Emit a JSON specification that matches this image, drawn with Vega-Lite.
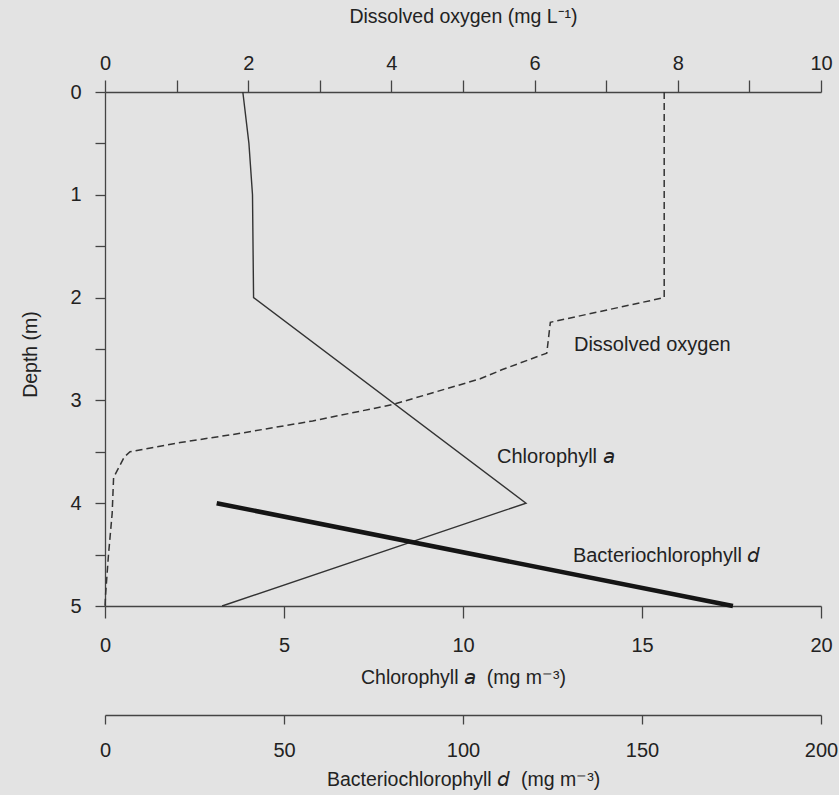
{
  "$schema": "https://vega.github.io/schema/vega-lite/v6.json",
  "width": 716,
  "height": 514,
  "autosize": {"type": "none"},
  "padding": {"left": 105, "top": 92, "right": 18, "bottom": 189},
  "background": "#e3e3e3",
  "config": {
    "view": {"stroke": null},
    "font": "Liberation Sans",
    "axis": {
      "domainColor": "#444",
      "domainWidth": 1.3,
      "tickColor": "#444",
      "tickWidth": 1.3,
      "labelColor": "#222",
      "titleColor": "#222",
      "labelFont": "Liberation Sans",
      "titleFont": "Liberation Sans",
      "labelFontSize": 20,
      "titleFontSize": 19.5,
      "titleFontWeight": "normal",
      "grid": false,
      "labelOverlap": false,
      "labelFlush": false
    }
  },
  "datasets": {
    "chl": [
      {"depth": 0, "chl": 3.85},
      {"depth": 0.5, "chl": 4.02},
      {"depth": 1, "chl": 4.12},
      {"depth": 2, "chl": 4.15},
      {"depth": 4, "chl": 11.76},
      {"depth": 5, "chl": 3.27}
    ],
    "oxy": [
      {"depth": 0, "oxygen": 7.81},
      {"depth": 2.0, "oxygen": 7.81},
      {"depth": 2.24, "oxygen": 6.22},
      {"depth": 2.54, "oxygen": 6.17},
      {"depth": 2.7, "oxygen": 5.55},
      {"depth": 2.79, "oxygen": 5.24},
      {"depth": 3.04, "oxygen": 4.02},
      {"depth": 3.2, "oxygen": 2.9},
      {"depth": 3.32, "oxygen": 1.89},
      {"depth": 3.41, "oxygen": 1.05},
      {"depth": 3.5, "oxygen": 0.35},
      {"depth": 3.55, "oxygen": 0.27},
      {"depth": 3.75, "oxygen": 0.12},
      {"depth": 4.1, "oxygen": 0.1},
      {"depth": 4.49, "oxygen": 0.05},
      {"depth": 4.87, "oxygen": 0.01},
      {"depth": 5, "oxygen": 0}
    ],
    "bchl": [
      {"depth": 4, "bchl": 31.2},
      {"depth": 5, "bchl": 175.4}
    ],
    "labels": [
      {"label": "Dissolved oxygen", "x": 13.1, "depth": 2.46},
      {"label": "Chlorophyll 𝘢", "x": 10.95, "depth": 3.55},
      {"label": "Bacteriochlorophyll 𝘥", "x": 13.07, "depth": 4.51}
    ]
  },
  "encoding": {
    "y": {
      "field": "depth",
      "type": "quantitative",
      "scale": {"domain": [0, 5], "reverse": true, "nice": false, "zero": false},
      "axis": {
        "orient": "left",
        "values": [0, 0.5, 1, 1.5, 2, 2.5, 3, 3.5, 4, 4.5, 5],
        "labelExpr": "datum.value % 1 === 0 ? format(datum.value, 'd') : ''",
        "tickSize": 10,
        "labelPadding": 14,
        "title": "Depth (m)",
        "titleBaseline": "middle",
        "titleX": -75,
        "titleY": 262
      }
    }
  },
  "layer": [
    {
      "layer": [
        {
          "data": {"name": "chl"},
          "mark": {"type": "line", "color": "#333", "strokeWidth": 1.4},
          "encoding": {
            "x": {
              "field": "chl",
              "type": "quantitative",
              "scale": {"domain": [0, 20], "nice": false, "zero": false},
              "axis": {
                "orient": "bottom",
                "values": [0, 5, 10, 15, 20],
                "tickSize": 12,
                "labelPadding": 17,
                "title": "Chlorophyll 𝘢\u00a0 (mg m⁻³)",
                "titleBaseline": "alphabetic",
                "titleY": 77
              }
            },
            "order": {"field": "depth", "type": "quantitative"}
          }
        },
        {
          "data": {"name": "labels"},
          "mark": {"type": "text", "align": "left", "baseline": "middle", "fontSize": 20, "color": "#222", "font": "Liberation Sans"},
          "encoding": {
            "x": {"field": "x", "type": "quantitative"},
            "text": {"field": "label"}
          }
        }
      ]
    },
    {
      "data": {"name": "oxy"},
      "mark": {"type": "line", "color": "#333", "strokeWidth": 1.5, "strokeDash": [7, 4]},
      "encoding": {
        "x": {
          "field": "oxygen",
          "type": "quantitative",
          "scale": {"domain": [0, 10], "nice": false, "zero": false},
          "axis": {
            "orient": "top",
            "values": [0, 1, 2, 3, 4, 5, 6, 7, 8, 9, 10],
            "labelExpr": "datum.value % 2 === 0 ? datum.label : ''",
            "tickSize": 12,
            "labelPadding": 7,
            "title": "Dissolved oxygen (mg L⁻¹)",
            "titleBaseline": "alphabetic",
            "titleY": -70
          }
        },
        "order": {"field": "depth", "type": "quantitative"}
      }
    },
    {
      "data": {"name": "bchl"},
      "mark": {"type": "line", "color": "#151515", "strokeWidth": 4.5},
      "encoding": {
        "x": {
          "field": "bchl",
          "type": "quantitative",
          "scale": {"domain": [0, 200], "nice": false, "zero": false},
          "axis": {
            "orient": "bottom",
            "offset": 109,
            "values": [0, 50, 100, 150, 200],
            "tickSize": 9,
            "labelPadding": 16,
            "title": "Bacteriochlorophyll 𝘥\u00a0 (mg m⁻³)",
            "titleBaseline": "alphabetic",
            "titleY": 70
          }
        },
        "order": {"field": "depth", "type": "quantitative"}
      }
    }
  ],
  "resolve": {"scale": {"x": "independent"}, "axis": {"x": "independent"}}
}
